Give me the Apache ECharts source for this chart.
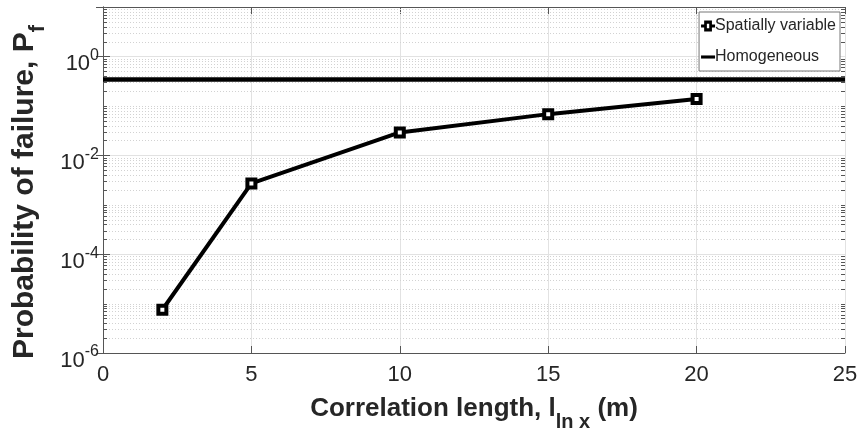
<!DOCTYPE html>
<html>
<head>
<meta charset="utf-8">
<script src="https://cdn.jsdelivr.net/npm/echarts@6/dist/echarts.min.js"></script>
<style>
  html, body { margin: 0; padding: 0; background: #fff; }
  #chart { width: 861px; height: 432px; }
</style>
</head>
<body>
<div id="chart"></div>
<script>
// Correlation length (m) of the spatially variable model
const corrLengths = [2, 5, 10, 15, 20];
// Probability of failure for each correlation length
const pfSpatial = [7.5e-6, 2.7e-3, 0.029, 0.068, 0.138];
// Probability of failure of the homogeneous model (constant)
const pfHomogeneous = 0.34;
// Axis ticks
const xTicks = [0, 5, 10, 15, 20, 25];
const yLabelExponents = [-6, -4, -2, 0];
const yMin = 1e-6, yMax = 10;

const FONT = '"Liberation Sans", Arial, Helvetica, sans-serif';
const INK = '#262626';
const AXIS = '#555';

// minor log ticks: m x 10^k, m = 2..10, excluding labelled decades
const minorVals = [];
for (let k = -6; k <= 0; k++) {
  for (let m = 2; m <= 10; m++) {
    const v = m * Math.pow(10, k);
    const e = Math.log10(v);
    if (v >= yMax * 0.999) continue;
    if (Math.abs(e - Math.round(e)) < 1e-9 && yLabelExponents.includes(Math.round(e))) continue;
    minorVals.push(v);
  }
}

// legend glyph: short thick line with a hollow square in the middle
const markerIcon = 'path://M0,8 L4,8 L4,3 L14,3 L14,8 L18,8 L18,12 L14,12 L14,17 L4,17 L4,12 L0,12 Z M7.5,7 L7.5,13 L10.5,13 L10.5,7 Z';

const chart = echarts.init(document.getElementById('chart'), null, { renderer: 'canvas' });

const yAxisBase = {
  type: 'log',
  logBase: 10,
  min: yMin,
  max: yMax,
  interval: 2,
  axisLine: { show: true, lineStyle: { color: AXIS, width: 1 } },
  axisTick: { show: true, inside: true, length: 7, lineStyle: { color: AXIS } },
  minorTick: { show: false },
  splitLine: { show: false }
};

const xAxisBase = {
  type: 'value',
  min: xTicks[0],
  max: xTicks[xTicks.length - 1],
  interval: xTicks[1] - xTicks[0],
  axisLine: { show: true, lineStyle: { color: AXIS, width: 1 } },
  axisTick: { show: true, inside: true, length: 7, lineStyle: { color: AXIS } },
  splitLine: { show: false }
};

const option = {
  animation: false,
  backgroundColor: '#fff',
  textStyle: { fontFamily: FONT },
  grid: { left: 103, right: 16, top: 7, bottom: 79, containLabel: false, outerBoundsMode: 'none' },
  legend: {
    right: 21,
    top: 12,
    orient: 'vertical',
    itemWidth: 14,
    itemHeight: 14,
    itemGap: 13,
    padding: [5, 4, 5, 2],
    backgroundColor: '#fff',
    borderColor: '#777',
    borderWidth: 1,
    borderRadius: 0,
    textStyle: { fontFamily: FONT, fontSize: 16, lineHeight: 18, color: INK, padding: [0, 0, 0, -5] },
    data: [
      { name: 'Spatially variable', icon: markerIcon, itemStyle: { color: '#000', borderWidth: 0 } },
      { name: 'Homogeneous', icon: 'path://M0,8 L18,8 L18,12 L0,12 Z', itemStyle: { color: '#000', borderWidth: 0 } }
    ]
  },
  xAxis: [
    Object.assign({}, xAxisBase, {
      position: 'bottom',
      splitLine: { show: true, lineStyle: { color: '#e2e2e2', width: 1 } },
      axisLabel: { show: true, fontSize: 22, color: INK, margin: 11, fontFamily: FONT },
      name: '{m|Correlation length, l}{sub|ln x}{m| (m)}',
      nameLocation: 'middle',
      nameGap: 43,
      nameTextStyle: {
        fontFamily: FONT, fontSize: 26, fontWeight: 'bold', color: INK,
        rich: {
          m: { fontFamily: FONT, fontSize: 26, fontWeight: 'bold', color: INK,
               lineHeight: 36, verticalAlign: 'top' },
          sub: { fontFamily: FONT, fontSize: 20, fontWeight: 'bold', color: INK,
                 lineHeight: 20, verticalAlign: 'bottom' }
        }
      }
    }),
    Object.assign({}, xAxisBase, {
      position: 'top',
      axisLabel: { show: false }
    })
  ],
  yAxis: [
    Object.assign({}, yAxisBase, {
      position: 'left',
      splitLine: { show: true, lineStyle: { color: '#e2e2e2', width: 1 } },
      axisLabel: {
        show: true,
        margin: 4,
        padding: [16, 0, 0, 0],
        fontFamily: FONT,
        fontSize: 21,
        formatter: function (v) {
          const e = Math.round(Math.log10(v));
          if (!yLabelExponents.includes(e)) return '';
          return '{b|10}{s|' + e + '}';
        },
        rich: {
          b: { fontFamily: FONT, fontSize: 22, color: INK, lineHeight: 34 },
          s: { fontFamily: FONT, fontSize: 16, color: INK, lineHeight: 16, verticalAlign: 'top' }
        }
      },
      name: '{m|Probability of failure, P}{sub|f}',
      nameLocation: 'middle',
      nameRotate: 90,
      nameGap: 52,
      nameTextStyle: {
        fontFamily: FONT, fontSize: 30, fontWeight: 'bold', color: INK,
        padding: [0, 24, 0, 0],
        rich: {
          m: { fontFamily: FONT, fontSize: 30, fontWeight: 'bold', color: INK,
               lineHeight: 40, verticalAlign: 'top' },
          sub: { fontFamily: FONT, fontSize: 22, fontWeight: 'bold', color: INK,
                 lineHeight: 22, verticalAlign: 'bottom' }
        }
      }
    }),
    Object.assign({}, yAxisBase, {
      position: 'right',
      axisLabel: { show: false }
    })
  ],
  series: [
    {
      // dotted minor grid with short inner ticks on both sides
      type: 'custom',
      silent: true,
      z: 1,
      xAxisIndex: 0,
      yAxisIndex: 0,
      data: minorVals.map(v => [xTicks[0], v]),
      renderItem: function (params, api) {
        const p0 = api.coord([xTicks[0], api.value(1)]);
        const p1 = api.coord([xTicks[xTicks.length - 1], api.value(1)]);
        const y = Math.round(p0[1]) + 0.5;
        return {
          type: 'group',
          children: [
            { type: 'line', shape: { x1: p0[0], y1: y, x2: p1[0], y2: y },
              style: { stroke: '#d2d2d2', lineWidth: 1, lineDash: [1, 2] } },
            { type: 'line', shape: { x1: p0[0], y1: y, x2: p0[0] + 4, y2: y },
              style: { stroke: AXIS, lineWidth: 1 } },
            { type: 'line', shape: { x1: p1[0] - 4, y1: y, x2: p1[0], y2: y },
              style: { stroke: AXIS, lineWidth: 1 } }
          ]
        };
      }
    },
    {
      name: 'Homogeneous',
      type: 'line',
      z: 3,
      symbol: 'none',
      lineStyle: { color: '#000', width: 4.5 },
      itemStyle: { color: '#000' },
      data: [[xTicks[0], pfHomogeneous], [xTicks[xTicks.length - 1], pfHomogeneous]]
    },
    {
      name: 'Spatially variable',
      type: 'line',
      z: 4,
      symbol: 'rect',
      symbolSize: 8,
      showAllSymbol: true,
      lineStyle: { color: '#000', width: 4 },
      itemStyle: { color: '#fff', borderColor: '#000', borderWidth: 4 },
      data: corrLengths.map((x, i) => [x, pfSpatial[i]])
    }
  ]
};

chart.setOption(option);
</script>
</body>
</html>
